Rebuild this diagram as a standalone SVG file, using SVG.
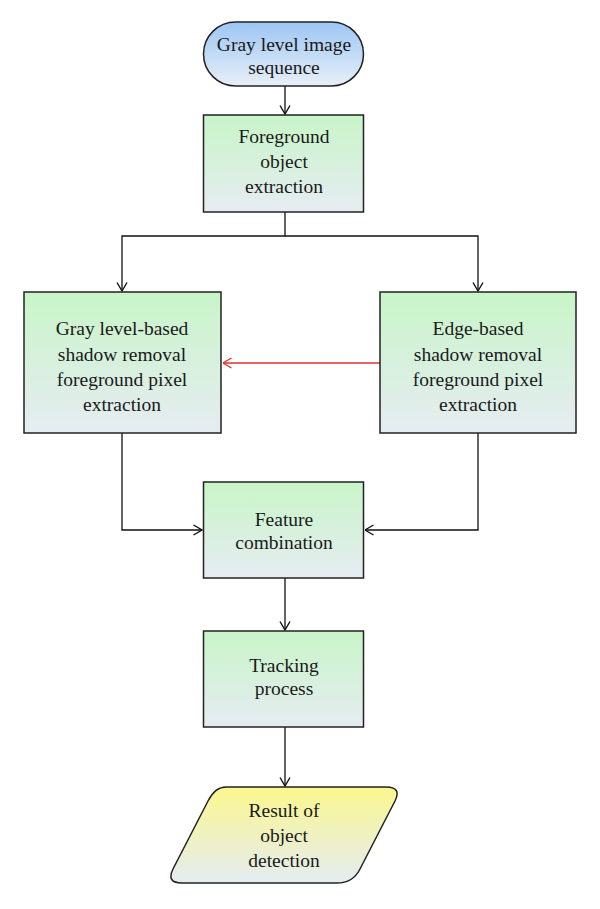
<svg xmlns="http://www.w3.org/2000/svg" width="600" height="909" viewBox="0 0 600 909">
<defs>
<linearGradient id="gGreen" x1="0" y1="0" x2="0" y2="1">
<stop offset="0" stop-color="#c8f5c8"/>
<stop offset="1" stop-color="#e6ecf2"/>
</linearGradient>
<linearGradient id="gBlue" x1="0" y1="0" x2="0" y2="1">
<stop offset="0" stop-color="#9cc6f4"/>
<stop offset="1" stop-color="#e8eff8"/>
</linearGradient>
<linearGradient id="gYellow" x1="0" y1="0" x2="0" y2="1">
<stop offset="0" stop-color="#fbf78e"/>
<stop offset="1" stop-color="#e4ecf2"/>
</linearGradient>
<marker id="arr" viewBox="0 0 10 12" refX="9.5" refY="6" markerWidth="10" markerHeight="12" markerUnits="userSpaceOnUse" orient="auto">
<path d="M1,1 L9.5,6 L1,11" fill="none" stroke="#111" stroke-width="1.4"/>
</marker>
<marker id="arrR" viewBox="0 0 10 12" refX="9.5" refY="6" markerWidth="10" markerHeight="12" markerUnits="userSpaceOnUse" orient="auto">
<path d="M1,1 L9.5,6 L1,11" fill="none" stroke="#e03030" stroke-width="1.4"/>
</marker>
</defs>
<style>
.box{fill:url(#gGreen);stroke:#222;stroke-width:1.5}
.t{font-family:"Liberation Serif","Times New Roman",serif;font-size:19.5px;fill:#1a1a1a;text-anchor:middle}
.c{fill:none;stroke:#111;stroke-width:1.3}
</style>
<rect width="600" height="909" fill="#fff"/>
<g id="connectors">
<path class="c" d="M285,86 V114" marker-end="url(#arr)"/>
<path class="c" d="M285,212 V236 H122 V291" marker-end="url(#arr)"/>
<path class="c" d="M285,236 H478 V291" marker-end="url(#arr)"/>
<path class="c" d="M380,363 H223" style="stroke:#e03030" marker-end="url(#arrR)"/>
<path class="c" d="M122,433 V530 H202" marker-end="url(#arr)"/>
<path class="c" d="M478,433 V530 H365" marker-end="url(#arr)"/>
<path class="c" d="M285,578 V630" marker-end="url(#arr)"/>
<path class="c" d="M285,727 V786" marker-end="url(#arr)"/>
</g>
<g id="n_start">
<rect x="203.5" y="22" width="160" height="64" rx="32" ry="32" fill="url(#gBlue)" stroke="#222" stroke-width="1.5"/>
<text class="t" x="284" y="51">Gray level image</text>
<text class="t" x="284" y="74">sequence</text>
</g>
<g id="n_foreground">
<rect class="box" x="203.5" y="115" width="160" height="97"/>
<text class="t" x="284" y="143">Foreground</text>
<text class="t" x="284" y="168">object</text>
<text class="t" x="284" y="193">extraction</text>
</g>
<g id="n_gray">
<rect class="box" x="24" y="292" width="197" height="141"/>
<text class="t" x="122" y="335">Gray level-based</text>
<text class="t" x="122" y="361">shadow removal</text>
<text class="t" x="122" y="386">foreground pixel</text>
<text class="t" x="122" y="411">extraction</text>
</g>
<g id="n_edge">
<rect class="box" x="380" y="292" width="196" height="141"/>
<text class="t" x="478" y="335">Edge-based</text>
<text class="t" x="478" y="361">shadow removal</text>
<text class="t" x="478" y="386">foreground pixel</text>
<text class="t" x="478" y="411">extraction</text>
</g>
<g id="n_feature">
<rect class="box" x="203.5" y="482" width="160" height="96"/>
<text class="t" x="284" y="526">Feature</text>
<text class="t" x="284" y="549">combination</text>
</g>
<g id="n_tracking">
<rect class="box" x="203.5" y="631" width="160" height="96"/>
<text class="t" x="284" y="672">Tracking</text>
<text class="t" x="284" y="695">process</text>
</g>
<g id="n_result">
<path d="M226,787 H386 Q402,787 395,801 L360,869 Q353,883 337,883 H182 Q166,883 173,869 L208,801 Q215,787 226,787 Z" fill="url(#gYellow)" stroke="#222" stroke-width="1.5"/>
<text class="t" x="284" y="817">Result of</text>
<text class="t" x="284" y="842">object</text>
<text class="t" x="284" y="867">detection</text>
</g>
</svg>
